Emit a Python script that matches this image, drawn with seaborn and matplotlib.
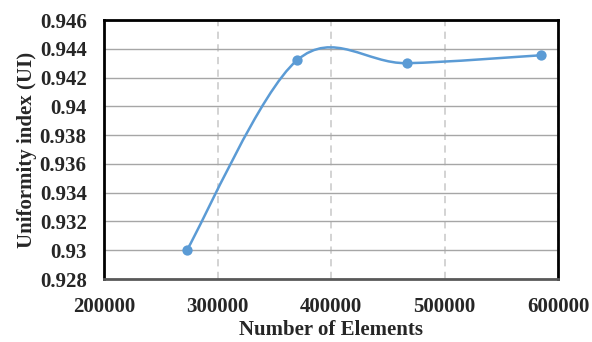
import numpy as np
import matplotlib
matplotlib.use("Agg")
import matplotlib.pyplot as plt
import seaborn as sns
from matplotlib.path import Path
from matplotlib.patches import PathPatch

# data
elements = [273000, 370000, 467000, 585000]
ui = [0.9300, 0.9432, 0.9430, 0.94355]
x_ticks = [200000, 300000, 400000, 500000, 600000]
y_ticks = [0.928, 0.93, 0.932, 0.934, 0.936, 0.938, 0.94, 0.942, 0.944, 0.946]
y_tick_labels = ["0.928", "0.93", "0.932", "0.934", "0.936", "0.938",
                 "0.94", "0.942", "0.944", "0.946"]

blue = "#5B9BD5"

sns.set_style("white")
plt.rcParams["font.family"] = ["Liberation Serif", "DejaVu Serif"]

fig = plt.figure(figsize=(5.92, 3.42), dpi=100)
ax = fig.add_axes([0.1757, 0.1842, 0.7669, 0.7573])


def smooth_path(xs, ys):
    # Excel-style smoothed line: Catmull-Rom segments as cubic Bezier curves
    pts = np.column_stack([xs, ys])
    verts = [pts[0]]
    codes = [Path.MOVETO]
    n = len(pts)
    for i in range(n - 1):
        p0 = pts[i - 1] if i > 0 else pts[i]
        p1 = pts[i]
        p2 = pts[i + 1]
        p3 = pts[i + 2] if i + 2 < n else pts[i + 1]
        c1 = p1 + (p2 - p0) / 6.0
        c2 = p2 - (p3 - p1) / 6.0
        verts += [c1, c2, p2]
        codes += [Path.CURVE4] * 3
    return Path(verts, codes)


ax.add_patch(PathPatch(smooth_path(elements, ui), facecolor="none",
                       edgecolor=blue, lw=1.8, zorder=3))
sns.scatterplot(x=elements, y=ui, ax=ax, color=blue, s=55,
                edgecolor=blue, linewidth=0, zorder=4)

ax.set_xlim(200000, 600000)
ax.set_ylim(0.928, 0.946)
ax.set_xticks(x_ticks)
ax.set_xticklabels([str(t) for t in x_ticks])
ax.set_yticks(y_ticks)
ax.set_yticklabels(y_tick_labels)

ax.grid(axis="y", color="#a6a6a6", lw=1.0, ls="-")
ax.grid(axis="x", color="#d0d0d0", lw=1.3, ls=(0, (4, 3)))
ax.set_axisbelow(True)

for side in ["left", "right", "top"]:
    ax.spines[side].set_color("black")
    ax.spines[side].set_linewidth(2.0)
ax.spines["bottom"].set_color("#595959")
ax.spines["bottom"].set_linewidth(2.0)

ax.tick_params(axis="both", length=0, labelsize=15)
ax.tick_params(axis="x", pad=13)
ax.tick_params(axis="y", pad=12.5)
for lab in ax.get_xticklabels() + ax.get_yticklabels():
    lab.set_fontweight("bold")

ax.set_xlabel("Number of Elements", fontsize=15, fontweight="bold", labelpad=2)
ax.set_ylabel("Uniformity index (UI)", fontsize=15, fontweight="bold", labelpad=2)

fig.savefig("out.png", dpi=100)
